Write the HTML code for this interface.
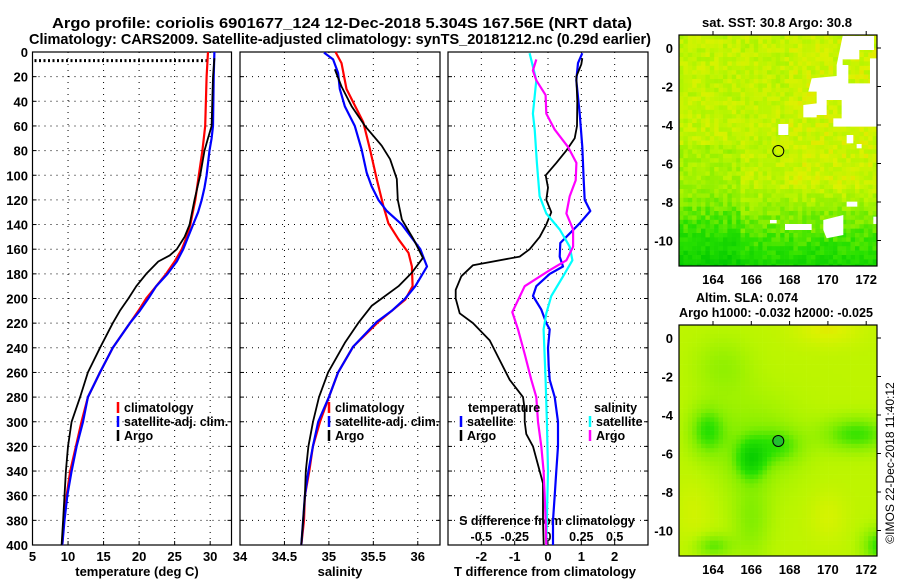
<!DOCTYPE html>
<html><head><meta charset="utf-8">
<style>
html,body{margin:0;padding:0;background:#fff;}
svg{display:block;font-family:"Liberation Sans",Arial,sans-serif;font-weight:bold;}
text{fill:#000;}
</style></head>
<body>
<svg id="chart" width="900" height="580" viewBox="0 0 900 580" xmlns="http://www.w3.org/2000/svg">
<g id="maps"></g>
<g id="panels"></g>
<text x="342" y="28" font-size="15" text-anchor="middle" textLength="580" lengthAdjust="spacingAndGlyphs">Argo profile: coriolis 6901677_124 12-Dec-2018 5.304S 167.56E (NRT data)</text>
<text x="340" y="44" font-size="15" text-anchor="middle" textLength="622" lengthAdjust="spacingAndGlyphs">Climatology: CARS2009. Satellite-adjusted climatology: synTS_20181212.nc (0.29d earlier)</text>
<text x="777" y="27" font-size="13" text-anchor="middle" textLength="150" lengthAdjust="spacingAndGlyphs">sat. SST: 30.8 Argo: 30.8</text>
<text x="747" y="302" font-size="13" text-anchor="middle" textLength="102" lengthAdjust="spacingAndGlyphs">Altim. SLA: 0.074</text>
<text x="776" y="317" font-size="13" text-anchor="middle" textLength="194" lengthAdjust="spacingAndGlyphs">Argo h1000: -0.032 h2000: -0.025</text>
<text transform="translate(894,463) rotate(-90)" font-size="12" font-weight="normal" text-anchor="middle">©IMOS 22-Dec-2018 11:40:12</text>
</svg>
<script>
// ---------- data ----------
const depthTick = [0,20,40,60,80,100,120,140,160,180,200,220,240,260,280,300,320,340,360,380,400];
const tTicks = [5,10,15,20,25,30];
const sTicks = [34,34.5,35,35.5,36];
const dTTicks = [-2,-1,0,1,2];
const dSTickLabels = ['-0.5','-0.25','0','0.25','0.5'];
const dSTicks = [-0.5,-0.25,0,0.25,0.5];

const tClimD = [0,20,60,80,100,120,140,150,160,170,180,190,200,210,220,240,260,280,300,320,340,360,380,400];
const tClimV = [29.7,29.5,29.3,28.9,28.4,27.9,27.2,26.7,26.0,25.0,23.8,22.4,21.0,19.9,18.7,16.3,14.5,12.8,11.9,11.1,10.3,9.8,9.4,9.2];
const tSatD = [0,20,60,70,80,100,110,120,130,140,150,160,170,180,190,200,210,220,240,260,280,300,320,340,360,380,400];
const tSatV = [30.6,30.5,30.4,30.2,29.9,29.5,29.2,28.8,28.3,27.6,26.9,26.2,25.3,24.0,22.4,21.3,20.1,18.7,16.3,14.5,12.8,12.1,11.2,10.5,9.9,9.5,9.2];
const tArgoD = [5,20,60,70,80,100,120,140,150,160,165,170,180,190,200,210,220,240,260,280,300,320,340,360,380,400];
const tArgoV = [30.6,30.4,30.2,29.7,29.2,28.6,27.8,27.1,26.4,25.3,24.3,22.7,21.0,19.6,18.5,17.3,16.3,14.5,12.8,11.7,10.5,10.0,9.7,9.5,9.3,9.1];

const sClimD = [0,9,30,57,79,103,125,139,152,163,174,190,201,219,239,260,280,300,320,340,360,380,400];
const sClimV = [35.074,35.142,35.198,35.387,35.462,35.538,35.613,35.670,35.783,35.896,35.934,35.942,35.858,35.557,35.274,35.104,35.0,34.9,34.82,34.78,34.73,34.72,34.69];
const sSatD = [0.5,6,17,30,44,60,79,98,109,120,129,140,160,174,190,200,210,219,239,260,280,300,320,340,360,380,400];
const sSatV = [34.945,35.047,35.104,35.123,35.179,35.292,35.368,35.425,35.481,35.557,35.651,35.821,36.028,36.104,35.972,35.858,35.708,35.538,35.274,35.104,35.0,34.88,34.82,34.77,34.73,34.71,34.69];
const sArgoD = [14,28,44,60,76,87,103,120,136,152,167,179,190,206,220,236,260,280,300,320,340,360,380,400];
const sArgoV = [35.066,35.142,35.255,35.406,35.594,35.689,35.764,35.775,35.821,35.953,36.058,35.934,35.783,35.481,35.330,35.179,34.991,34.889,34.821,34.77,34.74,34.73,34.71,34.69];

const dTSatD = [1,9,23,50,77,104,120,129,139,155,166,174,180,190,198,209,220,225,240,255,266,280,300,320,340,360,380,400];
const dTSatV = [1.03,0.90,0.85,0.95,1.03,1.07,1.10,1.27,0.95,0.37,0.35,0.45,0.05,-0.35,-0.45,-0.20,-0.05,0.05,0.0,0.02,0.05,0.2,0.3,0.3,0.25,0.2,0.15,0.15];
const dTArgoD = [5,10,20,40,60,70,80,90,100,110,120,130,140,150,160,166,173,182,193,200,212,220,234,250,266,280,290,300,310,320,340,350,360,380,400];
const dTArgoV = [1.03,1.0,0.85,0.88,0.87,0.8,0.55,0.25,-0.07,0,-0.05,0.1,-0.05,-0.25,-0.55,-0.85,-2.25,-2.6,-2.77,-2.77,-2.65,-2.25,-1.75,-1.45,-1.15,-0.75,-0.7,-0.7,-0.65,-0.45,-0.25,-0.15,-0.15,-0.15,-0.13];
const dSSatD = [1,23,50,63,90,117,131,144,158,169,182,198,212,225,266,300,340,400];
const dSSatV = [-0.138,-0.088,-0.113,-0.1,-0.083,-0.063,-0.013,0.088,0.163,0.183,0.113,0.025,-0.013,-0.033,-0.018,-0.008,0,-0.013];
const dSArgoD = [6,15,23,35,50,63,77,90,104,117,131,144,158,169,177,190,211,225,245,266,280,300,320,340,360,380,400];
const dSArgoV = [-0.088,-0.113,-0.088,-0.018,-0.013,0.05,0.15,0.213,0.208,0.163,0.138,0.188,0.188,0.138,0.013,-0.175,-0.268,-0.225,-0.175,-0.125,-0.088,-0.075,-0.05,-0.033,-0.025,-0.018,-0.013];

// ---------- geometry ----------
const NS='http://www.w3.org/2000/svg';
const top0=52, bot0=545;
const yD = d => top0 + d*(bot0-top0)/400;
const P1={x0:32.5,x1:231.5,min:5,max:33};
const P2={x0:240,x1:440,min:34,max:36.25};
const P3={x0:448,x1:648,min:-3,max:3};
const P3S={x0:448,x1:648,min:-0.75,max:0.75};
const xf = P => v => P.x0 + (v-P.min)*(P.x1-P.x0)/(P.max-P.min);
const panels=document.getElementById('panels');
function mk(tag,attrs,parent){const e=document.createElementNS(NS,tag);for(const k in attrs)e.setAttribute(k,attrs[k]);(parent||panels).appendChild(e);return e;}
function txt(x,y,s,size,anchor,parent){const t=mk('text',{x:x,y:y,'font-size':size,'text-anchor':anchor||'middle'},parent);t.textContent=s;return t;}

function frame(P,vticks,name){
  const g=mk('g',{});
  
  
  const X=xf(P);
  depthTick.forEach(d=>{ if(d>0&&d<400){
    const l=mk('line',{x1:P.x0,x2:P.x1,y1:yD(d),y2:yD(d),stroke:'#000','stroke-width':1,'stroke-dasharray':'1 5'},g);
    
    mk('line',{x1:P.x0,x2:P.x0+4,y1:yD(d),y2:yD(d),stroke:'#000'},g);
    mk('line',{x1:P.x1-4,x2:P.x1,y1:yD(d),y2:yD(d),stroke:'#000'},g);
  }});
  vticks.forEach(v=>{const x=X(v); if(x>P.x0+1&&x<P.x1-1){
    mk('line',{x1:x,x2:x,y1:top0,y2:bot0,stroke:'#000','stroke-dasharray':'1 5'},g);
    mk('line',{x1:x,x2:x,y1:bot0-4,y2:bot0,stroke:'#000'},g);
  }});
  mk('rect',{x:P.x0,y:top0,width:P.x1-P.x0,height:bot0-top0,fill:'none',stroke:'#000','stroke-width':1.2},g);
  return g;
}
function series(P,D,V,color,w,name){
  const X=xf(P);
  const pts=D.map((d,i)=>X(V[i]).toFixed(1)+','+yD(d).toFixed(1)).join(' ');
  const pl=mk('polyline',{points:pts,fill:'none',stroke:color,'stroke-width':w,'stroke-linejoin':'round'});
  
  
}
function legend(x,y,items){
  items.forEach((it,i)=>{
    const yy=y+i*14;
    mk('line',{x1:x,x2:x,y1:yy-5,y2:yy+6,stroke:it[1],'stroke-width':2.5});
    const t=txt(x+6,yy+5,it[0],12.5,'start');
    
    
  });
}

// panel 1
frame(P1,tTicks,'temperature-panel');
depthTick.forEach(d=>{const t=txt(28,yD(d)+5,String(d),13,'end');
  
  });
const X1=xf(P1);
tTicks.forEach(v=>{const t=txt(X1(v),561,String(v),13);
  
  });
const tl=txt(137,576,'temperature (deg C)',13);


const dots=mk('line',{x1:P1.x0+2,x2:X1(29.5),y1:yD(7),y2:yD(7),stroke:'#000','stroke-width':3,'stroke-dasharray':'2 2.5'});


series(P1,tClimD,tClimV,'#ff0000',2.2,'temp-climatology-line');
series(P1,tSatD,tSatV,'#0000ff',2.2,'temp-satellite-line');
series(P1,tArgoD,tArgoV,'#000000',1.8,'temp-argo-line');
legend(118,407,[['climatology','#ff0000'],['satellite-adj. clim.','#0000ff'],['Argo','#000']]);

// panel 2
frame(P2,sTicks,'salinity-panel');
const X2=xf(P2);
sTicks.forEach(v=>{const t=txt(X2(v),561,String(v),13);
  
  });
const sl=txt(340,576,'salinity',13);


series(P2,sClimD,sClimV,'#ff0000',2.2,'sal-climatology-line');
series(P2,sSatD,sSatV,'#0000ff',2.2,'sal-satellite-line');
series(P2,sArgoD,sArgoV,'#000000',1.8,'sal-argo-line');
legend(329,407,[['climatology','#ff0000'],['satellite-adj. clim.','#0000ff'],['Argo','#000']]);

// panel 3
frame(P3,dTTicks,'difference-panel');
const X3=xf(P3), X3S=xf(P3S);
dTTicks.forEach(v=>{const t=txt(X3(v),561,String(v),13);
  
  });
dSTicks.forEach((v,i)=>{const t=txt(X3S(v),541,dSTickLabels[i],12.5);
  
  });
const st=txt(547,525,'S difference from climatology',12.5);


const dl=txt(545,576,'T difference from climatology',13);


series(P3,dTSatD,dTSatV,'#0000ff',2.2,'tdiff-satellite-line');
series(P3,dTArgoD,dTArgoV,'#000000',1.8,'tdiff-argo-line');
series(P3S,dSSatD,dSSatV,'#00ffff',2.2,'sdiff-satellite-line');
series(P3S,dSArgoD,dSArgoV,'#ff00ff',2.2,'sdiff-argo-line');
txt(468,412,'temperature',12.5,'start');
legend(461,421,[['satellite','#0000ff'],['Argo','#000']]);
txt(594,412,'salinity',12.5,'start');
legend(590,421,[['satellite','#00ffff'],['Argo','#ff00ff']]);

// ---------- maps (image texture) ----------
const maps=document.getElementById('maps');
function cmap(v){
  const stops=[[0,[0,200,0]],[0.3,[40,225,0]],[0.5,[130,238,0]],[0.7,[185,245,0]],[0.85,[220,242,0]],[1,[255,190,0]]];
  v=Math.max(0,Math.min(1,v));
  for(let i=1;i<stops.length;i++){if(v<=stops[i][0]){const a=stops[i-1],b=stops[i],f=(v-a[0])/(b[0]-a[0]);
    return 'rgb('+b[1].map((c,k)=>Math.round(a[1][k]+(c-a[1][k])*f)).join(',')+')';}}
  return 'rgb(255,190,0)';
}
function hash(i,j){let h=Math.sin(i*127.1+j*311.7)*43758.5453;return h-Math.floor(h);}
function gauss(lon,lat,cx,cy,rx,ry){return Math.exp(-(((lon-cx)/rx)**2+((lat-cy)/ry)**2));}
function buildMap(y0,name,field,cell,noisy){
  const g=document.createElementNS(NS,'g');
  
  
  maps.appendChild(g);
  const x0=679,x1=877,yb=y0+231;
  for(let y=y0,j=0;y<yb;y+=cell,j++){for(let x=x0,i=0;x<x1;x+=cell,i++){
    const lon=164+(x+cell/2-713)/19.15, lat=-((y+cell/2-(y0+13))/19.25);
    let v=field(lon,lat); if(noisy) v+= (hash(i,j)-0.5)*0.2;
    mk('rect',{x:x,y:y,width:Math.min(cell,x1-x)+0.3,height:Math.min(cell,yb-y)+0.3,fill:cmap(v)},g);
  }}
  return g;
}
const sstField=(lon,lat)=>{let v=0.74; if(lat<-7) v-= (-7-lat)*0.13; if(lon<165.5 && lat<-5) v-=0.1; if(lon>168 && lat>-8) v+=0.04; return v;};
const slaField=(lon,lat)=>{let v=0.72;
  v-=0.2*gauss(lon,lat,166,-5.5,2.5,2.5);
  v-=0.35*gauss(lon,lat,163.7,-4.8,0.9,1.2);
  v-=0.42*gauss(lon,lat,166,-6.3,0.8,1.0);
  v-=0.38*gauss(lon,lat,171.5,-5,1.8,0.9);
  v-=0.25*gauss(lon,lat,167.5,-5.6,1.2,0.9);
  v-=0.15*gauss(lon,lat,164.5,-1.5,1.5,1.5);
  v-=0.2*gauss(lon,lat,166,-9.5,1,2);
  v-=0.3*gauss(lon,lat,164,-10.8,1,0.6);
  v-=0.4*gauss(lon,lat,172.7,-10.8,0.9,0.9);
  v+=0.15*gauss(lon,lat,170,0.5,1.8,0.9);
  v+=0.1*gauss(lon,lat,170,-9.3,1,1.3);
  v+=0.08*gauss(lon,lat,163,-9,1,2);
  return v;};
const m1=buildMap(35,'sst-map',sstField,4.4,true);
const wp=document.createElementNS(NS,'g');wp.setAttribute('transform','translate(660,0) scale(0.3333)');m1.appendChild(wp);
['548,108 642,108 642,150 598,150 598,178 548,178 548,195 530,195',
 '530,195 565,195 565,250 630,250 630,175 650,175 650,380 520,380 520,355 545,355 545,300 500,300 500,345 470,345 470,352 430,352 430,315 470,310 470,275 445,275 455,235 530,228',
 '355,372 385,372 385,405 355,405','560,405 580,405 580,430 560,430','590,432 605,432 605,445 590,445',
 '560,605 592,605 592,620 560,620','490,660 550,645 550,705 500,715 490,690','375,672 455,672 455,690 375,690','330,660 350,660 350,670 330,670','640,650 652,650 652,672 640,672'
].forEach(p=>mk('polygon',{points:p,fill:'#fff'},wp));
const m2=buildMap(325,'sla-map',slaField,4.4,false);
function mapAxes(y0,g,name){
  mk('rect',{x:679,y:y0,width:198,height:231,fill:'none',stroke:'#000','stroke-width':1.2},g);
  [164,166,168,170,172].forEach(l=>{const x=713+(l-164)*19.15;
    mk('line',{x1:x,x2:x,y1:y0-4,y2:y0,stroke:'#000'},g);
    const t=txt(x,y0+249,String(l),13,'middle',g);
    
    });
  [0,-2,-4,-6,-8,-10].forEach(l=>{const y=y0+13-l*19.25;
    mk('line',{x1:877,x2:881,y1:y,y2:y,stroke:'#000'},g);
    const t=txt(673,y+5,String(l),13,'end',g);
    
    });
}
mapAxes(35,m1,'sst-map');
mapAxes(325,m2,'sla-map');
const c1=mk('circle',{cx:778.3,cy:151,r:5.5,fill:'none',stroke:'#000','stroke-width':1},m1);


const c2=mk('circle',{cx:778.3,cy:441,r:5.5,fill:'#22c030',stroke:'#000','stroke-width':1},m2);


</script>
</body></html>
